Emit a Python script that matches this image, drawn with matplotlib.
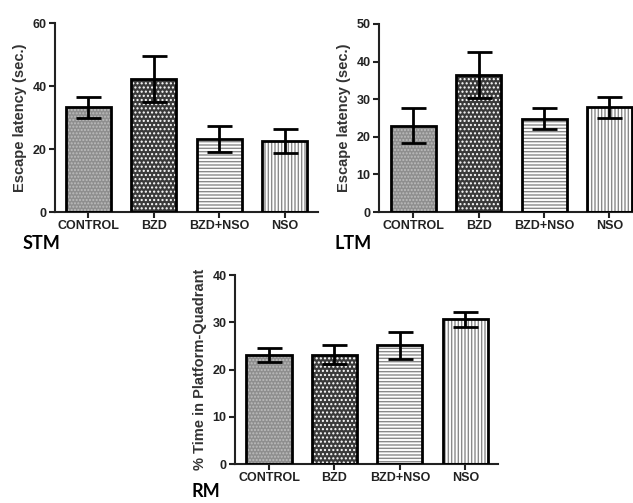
import matplotlib.pyplot as plt
import numpy as np

plt.rcParams['font.family'] = 'Liberation Sans'
plt.rcParams['font.weight'] = 'bold'
plt.rcParams['hatch.linewidth'] = 1.0

groups = ['CONTROL', 'BZD', 'BZD+NSO', 'NSO']

stm_mean = [33.2, 42.2, 23.1, 22.5]
stm_err = [3.2, 7.3, 4.2, 3.8]

ltm_mean = [23.0, 36.4, 24.8, 27.8]
ltm_err = [4.6, 6.2, 2.8, 2.9]

rm_mean = [23.1, 23.1, 25.1, 30.6]
rm_err = [1.5, 2.0, 2.8, 1.6]

# fill, hatch, hatch colour for each group
fills = ['#8e8e8e', '#3a3a3a', 'white', 'white']
hatches = ['.....', '....', '-----', '|||||']
hatch_cols = ['#bdbdbd', 'white', '#8a8a8a', '#8a8a8a']


def panel(ax, means, errs, ymax, ystep, ylabel, xlim):
    x = np.arange(len(groups))
    for i in range(len(groups)):
        ax.bar(x[i], means[i], 0.69, color=fills[i], hatch=hatches[i],
               edgecolor=hatch_cols[i], linewidth=0, zorder=2)
    ax.bar(x, means, 0.69, fill=False, edgecolor='black', linewidth=2, zorder=3)
    ax.errorbar(x, means, yerr=errs, fmt='none', ecolor='black', elinewidth=2,
                capsize=9, capthick=2, zorder=4)
    ax.set_ylim(0, ymax)
    ax.set_xlim(*xlim)
    ax.set_yticks(np.arange(0, ymax + 1, ystep))
    ax.set_xticks(x)
    ax.set_xticklabels(groups)
    ax.spines['top'].set_visible(False)
    ax.spines['right'].set_visible(False)
    ax.spines['left'].set_linewidth(1.5)
    ax.spines['bottom'].set_linewidth(1.5)
    ax.spines['left'].set_color('#222222')
    ax.spines['bottom'].set_color('#222222')
    ax.tick_params(axis='both', labelsize=9, width=1.5, length=4, colors='#222222', pad=2)
    ax.set_ylabel(ylabel, fontsize=10.5, fontweight='bold', color='#333333', labelpad=4)


fig = plt.figure(figsize=(6.33, 5.03), dpi=100)

ax1 = fig.add_axes([0.0869, 0.5785, 0.4155, 0.3757])
panel(ax1, stm_mean, stm_err, 60, 20, 'Escape latency (sec.)', (-0.51, 3.51))

ax2 = fig.add_axes([0.5987, 0.5785, 0.4013, 0.3738])
panel(ax2, ltm_mean, ltm_err, 50, 10, 'Escape latency (sec.)', (-0.525, 3.36))

ax3 = fig.add_axes([0.3712, 0.0775, 0.4155, 0.3757])
panel(ax3, rm_mean, rm_err, 40, 10, '% Time in Platform-Quadrant', (-0.52, 3.5))

fig.text(0.036, 0.505, 'STM', fontsize=13, fontweight='bold', family='Lato')
fig.text(0.528, 0.505, 'LTM', fontsize=13, fontweight='bold', family='Lato')
fig.text(0.303, 0.012, 'RM', fontsize=13, fontweight='bold', family='Lato')

fig.savefig('out.png', dpi=100)
